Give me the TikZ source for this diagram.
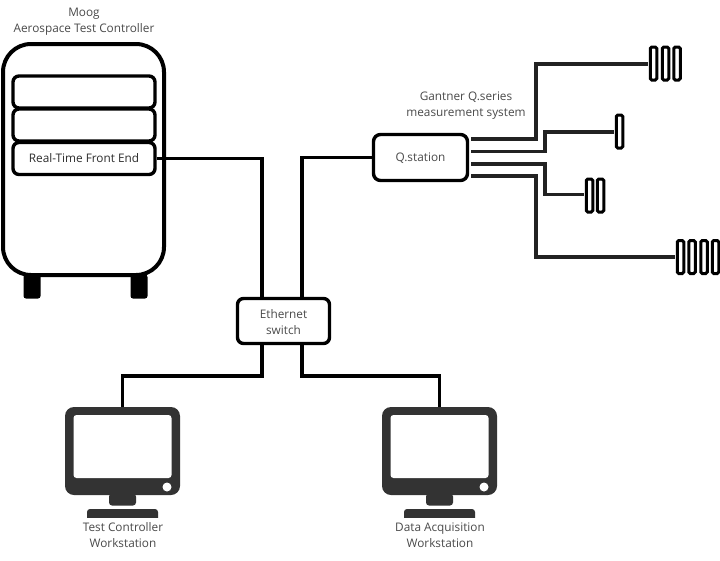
\documentclass[tikz,border=0pt]{standalone}
\usepackage{fontspec}
\setmainfont{Open Sans}
\definecolor{ink}{HTML}{000000}
\definecolor{dark}{HTML}{333333}
\definecolor{wire}{HTML}{222222}
\definecolor{txt}{HTML}{4A4A4A}
\tikzset{
  box/.style={draw=ink,fill=white,line width=3.4pt,rounded corners=6pt,inner sep=0pt,anchor=center},
  cabinet/.style={draw=ink,fill=white,line width=4pt,rounded corners=28pt,inner sep=0pt,anchor=center},
  foot/.style={fill=ink,rounded corners=2.5pt,inner sep=0pt,anchor=center,minimum width=17pt,minimum height=24pt},
  bar/.style={draw=ink,fill=white,line width=3pt,rounded corners=1.5pt,inner sep=0pt,anchor=center,minimum width=6.5pt,minimum height=33pt},
  label/.style={text=txt,font=\fontsize{11.8}{16}\selectfont,align=center,inner sep=0pt,anchor=center},
  lan/.style={draw=ink,line width=3.5pt,line join=miter},
  wirel/.style={draw=wire,line width=3.2pt,line join=miter,shorten >=1pt},
  screen/.style={fill=dark,rounded corners=9pt,inner sep=0pt,anchor=center,minimum width=115pt,minimum height=88pt},
  glass/.style={fill=white,rounded corners=3pt,inner sep=0pt,anchor=center,minimum width=98pt,minimum height=63pt},
  lamp/.style={circle,fill=white,inner sep=0pt,minimum size=9pt,anchor=center},
  neck/.style={fill=dark,rounded corners=3pt,inner sep=0pt,anchor=center,minimum width=27pt,minimum height=12pt},
}
\begin{document}
\begin{tikzpicture}[x=1pt,y=-1pt]
\useasboundingbox (0,0) rectangle (720,560);
\fill[white] (0,0) rectangle (720,560);
% controller
\node[foot] (footl) at (32,286.5) {};
\node[foot] (footr) at (139,286.5) {};
\node[cabinet,minimum width=161pt,minimum height=231pt] (ctrl) at (83.5,159.5) {};
\node[box,minimum width=142pt,minimum height=32pt] (slota) at (84,92) {};
\node[box,minimum width=142pt,minimum height=32pt] (slotb) at (84,125) {};
\node[box,minimum width=142pt,minimum height=32pt,font=\fontsize{11.8}{16}\selectfont] (rtfe) at (84,158.5) {\textcolor{txt!60!black}{Real-Time Front End}};
\node[label] (ctrllabel) at (84,22) {Moog\\Aerospace Test Controller};
% switch and station
\node[box,minimum width=92pt,minimum height=45pt] (sw) at (283.5,321) {};
\node[label] (swlabel) at (283.5,322) {Ethernet\\switch};
\node[box,minimum width=94pt,minimum height=46pt,rounded corners=7pt] (qs) at (420.5,157.5) {};
\node[label] (qslabel) at (420.5,158.5) {Q.station};
\node[label] (qlabel) at (466,106) {Gantner Q.series\\measurement system};
% sensors
\node[bar] (a1) at (653.5,63.5) {};
\node[bar] (a2) at (665.5,63.5) {};
\node[bar] (a3) at (677,63.5) {};
\node[bar] (b1) at (619.5,131.5) {};
\node[bar] (c1) at (589.5,195.5) {};
\node[bar] (c2) at (600.5,195.5) {};
\node[bar] (d1) at (680.5,257) {};
\node[bar] (d2) at (692,257) {};
\node[bar] (d3) at (704,257) {};
\node[bar] (d4) at (715.5,257) {};
% monitors
\node[screen] (mona) at (122.5,451) {};
\node[glass] (glassa) at (122.5,446.5) {};
\node[lamp] (lampa) at (167,487) {};
\node[neck] (necka) at (122.5,499.5) {};
\fill[dark,rounded corners=3pt] (87,521) -- (87,509) -- (158,509) -- (158,521) -- cycle;
\node[screen] (monb) at (439.5,451) {};
\node[glass] (glassb) at (439.5,446.5) {};
\node[lamp] (lampb) at (484,487) {};
\node[neck] (neckb) at (439.5,499.5) {};
\fill[dark,rounded corners=3pt] (404,521) -- (404,509) -- (475,509) -- (475,521) -- cycle;
\fill[white] (60,518) rectangle (500,524);
\node[label] (monalabel) at (123,535) {Test Controller\\Workstation};
\node[label] (monblabel) at (440,535) {Data Acquisition\\Workstation};
% lan wires
\coordinate (swtl) at (262,298.5);
\coordinate (swtr) at (302,298.5);
\coordinate (swbl) at (262,343.5);
\coordinate (swbr) at (302,343.5);
\draw[lan] (rtfe.east) -- (swtl |- rtfe.east) -- (swtl);
\draw[lan] (qs.west) -- (swtr |- qs.west) -- (swtr);
\draw[lan] (swbl) -- (262,376) -- (mona.north |- 0,376) -- (mona.north);
\draw[lan] (swbr) -- (302,376) -- (monb.north |- 0,376) -- (monb.north);
% sensor wires
\coordinate (qa) at (471,139);
\coordinate (qb) at (471,151.5);
\coordinate (qc) at (471,164);
\coordinate (qd) at (471,176);
\draw[wirel] (qa) -- (536,139) -- (536,64) -- (a1.west |- 0,64);
\draw[wirel] (qb) -- (545,151.5) -- (545,132) -- (b1.west |- 0,132);
\draw[wirel] (qc) -- (545,164) -- (545,194.5) -- (c1.west |- 0,194.5);
\draw[wirel] (qd) -- (536,176) -- (536,257) -- (d1.west |- 0,257);
\end{tikzpicture}
\end{document}
